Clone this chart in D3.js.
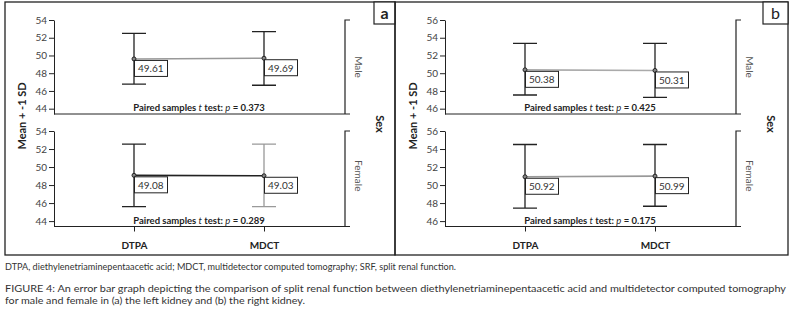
<!DOCTYPE html>
<html>
<head>
  <meta charset="utf-8">
  <script src="https://cdn.jsdelivr.net/npm/d3@7"></script>
  <style>
    body { margin: 0; background: #fff; }
    text { font-family: Lato, "Liberation Sans", sans-serif; }
  </style>
</head>
<body>
  <svg width="793" height="310" id="mainsvg"></svg>
  <script>
    const categories = ['DTPA', 'MDCT'];
    const sexes = ['Male', 'Female'];
    const yTicksLeft = [44, 46, 48, 50, 52, 54];
    const yTicksRight = [46, 48, 50, 52, 54, 56];

    // panel a (left kidney): [Male, Female] x [DTPA, MDCT]
    const leftMean = [[49.61, 49.69], [49.08, 49.03]];
    const leftUpper = [[52.5, 52.7], [52.55, 52.55]];
    const leftLower = [[46.78, 46.64], [45.6, 45.6]];
    const leftP = ['0.373', '0.289'];

    // panel b (right kidney)
    const rightMean = [[50.38, 50.31], [50.92, 50.99]];
    const rightUpper = [[53.37, 53.37], [54.5, 54.5]];
    const rightLower = [[47.54, 47.28], [47.43, 47.65]];
    const rightP = ['0.425', '0.175'];

    const svg = d3.select('#mainsvg');

    const panels = [
      { id: 'a', dx: 0, x0: 5, x1: 395, ticks: yTicksLeft, mean: leftMean, upper: leftUpper, lower: leftLower, p: leftP,
        lineCol: ['#999', '#222'], barCol: [['#222', '#222'], ['#222', '#999']], bold: true },
      { id: 'b', dx: 391, x0: 395, x1: 788, ticks: yTicksRight, mean: rightMean, upper: rightUpper, lower: rightLower, p: rightP,
        lineCol: ['#aaa', '#999'], barCol: [['#222', '#222'], ['#222', '#222']], bold: false }
    ];

    // facet rows: top / bottom pixel of the plot area
    const rows = [{ top: 20, bottom: 114 }, { top: 131, bottom: 226.5 }];

    panels.forEach(P => {
      const g = svg.append('g').attr('transform', `translate(${P.dx},0)`);
      const ox = -P.dx;

      // outer frame
      g.append('rect')
        .attr('x', P.x0 + ox).attr('y', 2)
        .attr('width', P.x1 - P.x0).attr('height', 253)
        .attr('fill', 'none').attr('stroke', '#222').attr('stroke-width', 1.3);

      // panel letter box
      const bw = P.id === 'a' ? 21 : 25;
      g.append('rect')
        .attr('x', P.x1 + ox - bw).attr('y', 2)
        .attr('width', bw).attr('height', 22)
        .attr('fill', '#fff').attr('stroke', '#222').attr('stroke-width', 1.2);
      g.append('text')
        .attr('x', P.x1 + ox - bw / 2).attr('y', 19)
        .attr('text-anchor', 'middle')
        .attr('font-size', 16)
        .attr('font-weight', P.bold ? 'bold' : 'normal')
        .attr('fill', '#222')
        .text(P.id);

      const x = d3.scalePoint().domain(categories).range([134, 264]);

      sexes.forEach((sex, si) => {
        const R = rows[si];
        const lo = P.ticks[0] - 0.6;
        const y = d3.scaleLinear().domain([lo, P.ticks[P.ticks.length - 1]]).range([R.bottom, R.top]);

        // y axis
        const ya = g.append('g').attr('transform', 'translate(54,0)')
          .call(d3.axisLeft(y).tickValues(P.ticks).tickSize(5).tickSizeOuter(0).tickPadding(2));
        ya.select('.domain').attr('stroke', '#222');
        ya.selectAll('.tick line').attr('stroke', '#222');
        ya.selectAll('.tick text').attr('font-size', 10).attr('fill', '#444')
          .style('font-family', 'Lato, sans-serif');

        // x axis line
        const xa = g.append('g').attr('transform', `translate(0,${R.bottom})`)
          .call(d3.axisBottom(x).tickSize(si === 1 ? 5 : 0).tickSizeOuter(0).tickPadding(10).tickFormat(si === 1 ? d => d : ''));
        xa.select('.domain').attr('d', `M54,0H350`).attr('stroke', '#222');
        xa.selectAll('.tick line').attr('stroke', '#222');
        xa.selectAll('.tick text').attr('font-size', 10).attr('font-weight', 'bold').attr('fill', '#222')
          .style('font-family', 'Lato, sans-serif');

        // facet bracket on the right
        g.append('path')
          .attr('d', `M350,${R.top}H345V${R.bottom}`)
          .attr('fill', 'none').attr('stroke', '#222').attr('stroke-width', 1.2);

        // facet label
        const my = (R.top + R.bottom) / 2 + (si === 0 ? 0 : -3);
        g.append('text')
          .attr('transform', `translate(355,${my}) rotate(90)`)
          .attr('text-anchor', 'middle')
          .attr('font-size', 10).attr('fill', '#555')
          .text(sex);

        const means = P.mean[si];

        // connecting line between means
        g.append('line')
          .attr('x1', x(categories[0])).attr('x2', x(categories[1]))
          .attr('y1', y(means[0])).attr('y2', y(means[1]))
          .attr('stroke', P.lineCol[si]).attr('stroke-width', 1.6);

        // error bars
        categories.forEach((c, ci) => {
          const cx = x(c);
          const col = P.barCol[si][ci];
          const yu = y(P.upper[si][ci]);
          const yl = y(P.lower[si][ci]);
          g.append('path')
            .attr('d', `M${cx},${yu}V${yl}M${cx - 12},${yu}H${cx + 12}M${cx - 12},${yl}H${cx + 12}`)
            .attr('fill', 'none').attr('stroke', col).attr('stroke-width', 1.3);
        });

        // mean markers and value labels
        categories.forEach((c, ci) => {
          const cx = x(c);
          const cy = y(means[ci]);
          g.append('circle')
            .attr('cx', cx).attr('cy', cy).attr('r', 2)
            .attr('fill', '#888').attr('stroke', '#222').attr('stroke-width', 1);
          g.append('rect')
            .attr('x', cx + 0.5).attr('y', cy + 1.5)
            .attr('width', 33).attr('height', 16)
            .attr('fill', '#fff').attr('stroke', '#222').attr('stroke-width', 1);
          g.append('text')
            .attr('x', cx + 4).attr('y', cy + 13.5)
            .attr('font-size', 10).attr('fill', '#333')
            .text(means[ci].toFixed(2));
        });

        // paired t test note
        const t = g.append('text')
          .attr('x', 199).attr('y', R.bottom - 3)
          .attr('text-anchor', 'middle')
          .attr('font-size', 9.5).attr('font-weight', 'bold').attr('fill', '#222');
        t.append('tspan').text('Paired samples ');
        t.append('tspan').attr('font-style', 'italic').attr('font-weight', 'normal').text('t');
        t.append('tspan').text(' test: ');
        t.append('tspan').attr('font-style', 'italic').attr('font-weight', 'normal').text('p');
        t.append('tspan').text(' = ' + P.p[si]);
      });

      // y axis title
      g.append('text')
        .attr('transform', `translate(26,116) rotate(-90)`)
        .attr('text-anchor', 'middle')
        .attr('font-size', 11).attr('font-weight', 'bold').attr('fill', '#222')
        .text('Mean + -1 SD');

      // facet title
      g.append('text')
        .attr('transform', `translate(376,124) rotate(90)`)
        .attr('text-anchor', 'middle')
        .attr('font-size', 11).attr('font-weight', 'bold').attr('fill', '#222')
        .text('Sex');
    });

    // captions
    svg.append('text')
      .attr('x', 5).attr('y', 270)
      .attr('font-size', 8.5).attr('fill', '#333')
      .attr('textLength', 451).attr('lengthAdjust', 'spacingAndGlyphs')
      .text('DTPA, diethylenetriaminepentaacetic acid; MDCT, multidetector computed tomography; SRF, split renal function.');

    svg.append('text')
      .attr('x', 5).attr('y', 292)
      .attr('font-size', 9.5).attr('fill', '#333')
      .attr('textLength', 781).attr('lengthAdjust', 'spacingAndGlyphs')
      .text('FIGURE 4: An error bar graph depicting the comparison of split renal function between diethylenetriaminepentaacetic acid and multidetector computed tomography');

    svg.append('text')
      .attr('x', 5).attr('y', 304)
      .attr('font-size', 9.5).attr('fill', '#333')
      .attr('textLength', 300).attr('lengthAdjust', 'spacingAndGlyphs')
      .text('for male and female in (a) the left kidney and (b) the right kidney.');
  </script>
</body>
</html>
